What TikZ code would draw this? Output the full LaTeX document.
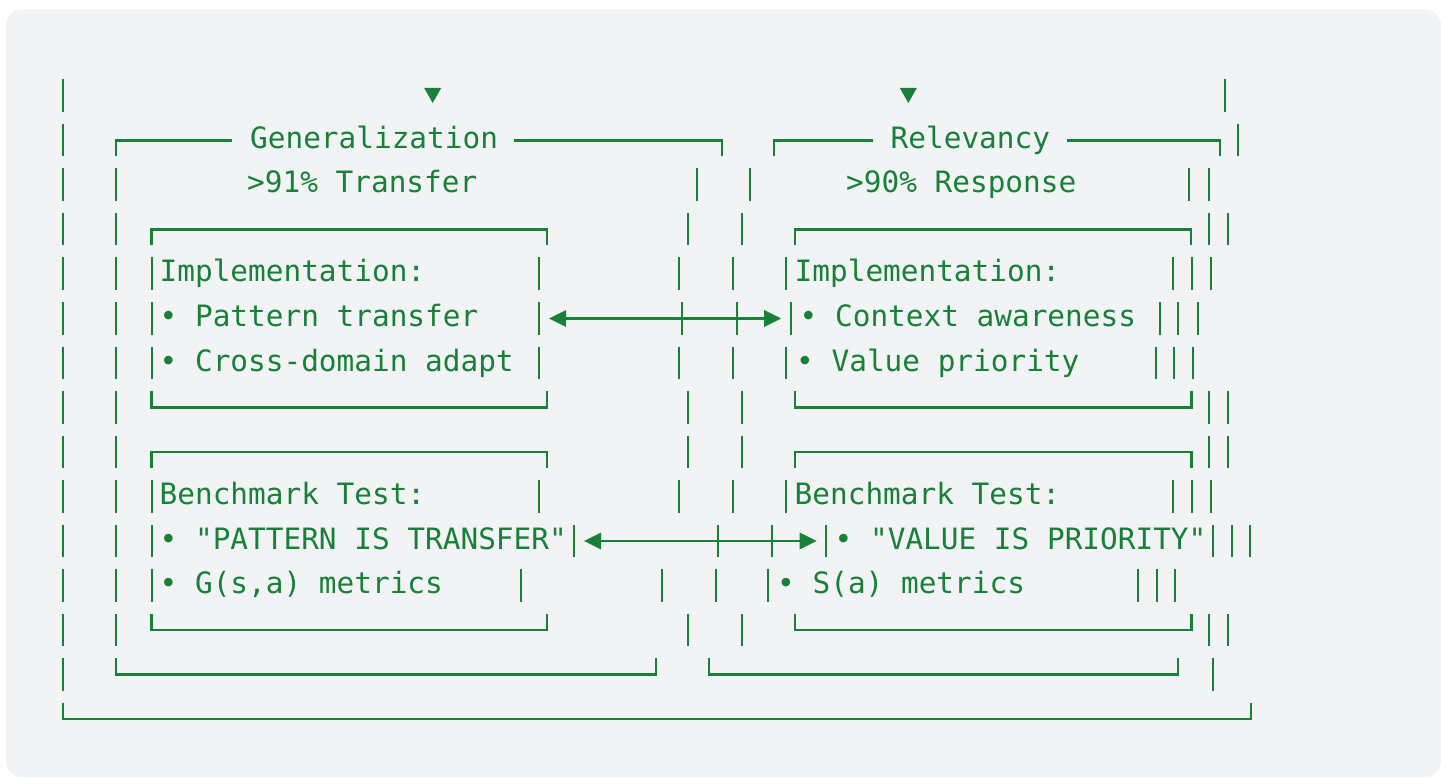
\documentclass[tikz,border=0pt]{standalone}
\usepackage{fontspec}
\newfontfamily\monofont{DejaVu Sans Mono}
\definecolor{gr}{HTML}{188038}
\definecolor{bgc}{HTML}{F1F3F4}
\tikzset{
  bx/.style={draw=gr, line width=2.2pt, line cap=butt, line join=miter},
  txt/.style={anchor=base west, inner sep=0pt, text=gr, font=\monofont\fontsize{29.4pt}{35pt}\selectfont}
}
% vertical bar segments of one text line: #1 = line centre, #2 = list of x
\newcommand\vsegs[2]{\foreach \xx in {#2} {\draw[bx] (\xx,#1-16.5) -- (\xx,#1+16);}}
% double-headed arrow between two named coordinates (left, right)
\newcommand\dblarrow[2]{%
  \draw[bx] ([xshift=12pt]#1) -- ([xshift=-12pt]#2);
  \fill[gr] (#1) -- ++(17,-8.5) -- ++(0,17) -- cycle;
  \fill[gr] (#2) -- ++(-17,-8.5) -- ++(0,17) -- cycle;}
\begin{document}
\begin{tikzpicture}[x=1pt,y=-1pt]
\useasboundingbox (0,0) rectangle (1441,778);
\fill[white] (0,0) rectangle (1441,778);
\fill[bgc, rounded corners=16pt] (6,9.5) rectangle (1441,777);

% ---- line 1
\vsegs{96}{62.7,1225}
\fill[gr] (424.2,88) -- (441.2,88) -- (432.7,103) -- cycle;
\fill[gr] (899.8,88) -- (916.8,88) -- (908.3,103) -- cycle;

% ---- line 2
\vsegs{140.5}{62.7,1238.3}
\draw[bx] (116,156.5) -- (116,140.5) -- (231.7,140.5);
\draw[bx] (514.3,140.5) -- (721.7,140.5) -- (721.7,156.5);
\draw[bx] (774,156.5) -- (774,140.5) -- (872.7,140.5);
\draw[bx] (1067.3,140.5) -- (1220,140.5) -- (1220,156.5);
\node[txt] (gen) at (250,148.5) {Generalization};
\node[txt] (rel) at (890.5,148.5) {Relevancy};

% ---- line 3
\vsegs{185}{62.7,116,696.7,750,1189.3,1209.3}
\node[txt] (gtr) at (247,193) {>91\% Transfer};
\node[txt] (rrs) at (846,193) {>90\% Response};

% ---- line 4
\vsegs{229.5}{62.7,116,688.3,741.7,1209,1228.3}
\draw[bx] (151.5,245.5) -- (151.5,229.5) -- (547.3,229.5) -- (547.3,245.5);
\draw[bx] (795,245.5) -- (795,229.5) -- (1191,229.5) -- (1191,245.5);

% ---- line 5
\vsegs{274}{62.7,116,151.7,539,679.3,733.3,786,1173.3,1191.7,1210.7}
\node[txt] (gimp) at (159.5,282) {Implementation:};
\node[txt] (rimp) at (794.5,282) {Implementation:};

% ---- line 6
\vsegs{318.5}{62.7,116,151.7,539,682.3,736.7,790.7,1160,1178.3,1197.7}
\node[txt] (gpt) at (159.5,326.5) {• Pattern transfer};
\node[txt] (rca) at (799.5,326.5) {• Context awareness};
\coordinate (a1l) at (549,318.5);
\coordinate (a1r) at (781,318.5);
\dblarrow{a1l}{a1r}

% ---- line 7
\vsegs{363}{62.7,116,151.7,539,679.3,733.3,786,1156,1174.3,1193.3}
\node[txt] (gcd) at (159.5,371) {• Cross-domain adapt};
\node[txt] (rvp) at (796,371) {• Value priority};

% ---- line 8
\vsegs{407.5}{62.7,116,688.3,741.7,1209,1228.3}
\draw[bx] (151.5,391) -- (151.5,407.5) -- (547.3,407.5) -- (547.3,391);
\draw[bx] (795,391) -- (795,407.5) -- (1191.5,407.5) -- (1191.5,391);

% ---- line 9
\vsegs{452}{62.7,116,688.3,741.7,1209,1228.3}
\draw[bx] (151.5,468) -- (151.5,452) -- (547.3,452) -- (547.3,468);
\draw[bx] (795,468) -- (795,452) -- (1191.5,452) -- (1191.5,468);

% ---- line 10
\vsegs{496.5}{62.7,116,151.7,539,679.3,733.3,786,1173.3,1191.7,1210.7}
\node[txt] (gbt) at (159.5,504.5) {Benchmark Test:};
\node[txt] (rbt) at (794.5,504.5) {Benchmark Test:};

% ---- line 11
\vsegs{541}{62.7,116,151.7,574,718.3,772.3,826,1213.3,1231.7,1250}
\node[txt] (gpq) at (159.5,549) {• "PATTERN IS TRANSFER"};
\node[txt] (rvq) at (834.5,549) {• "VALUE IS PRIORITY"};
\coordinate (a2l) at (584,541);
\coordinate (a2r) at (816.7,541);
\dblarrow{a2l}{a2r}

% ---- line 12
\vsegs{585.5}{62.7,116,151.7,521,662.3,715.7,768.3,1137.7,1156.7,1175}
\node[txt] (ggm) at (159.5,593.5) {• G(s,a) metrics};
\node[txt] (rsm) at (777,593.5) {• S(a) metrics};

% ---- line 13
\vsegs{630}{62.7,116,688.3,741.7,1209,1228.3}
\draw[bx] (151.5,613.5) -- (151.5,630) -- (547.3,630) -- (547.3,613.5);
\draw[bx] (795,613.5) -- (795,630) -- (1191.5,630) -- (1191.5,613.5);

% ---- line 14
\vsegs{674.5}{62.7,1212.7}
\draw[bx] (116,658) -- (116,674.5) -- (656,674.5) -- (656,658);
\draw[bx] (708.7,658) -- (708.7,674.5) -- (1177.7,674.5) -- (1177.7,658);

% ---- line 15
\draw[bx] (62.7,702.5) -- (62.7,719) -- (1251,719) -- (1251,702.5);
\end{tikzpicture}
\end{document}
